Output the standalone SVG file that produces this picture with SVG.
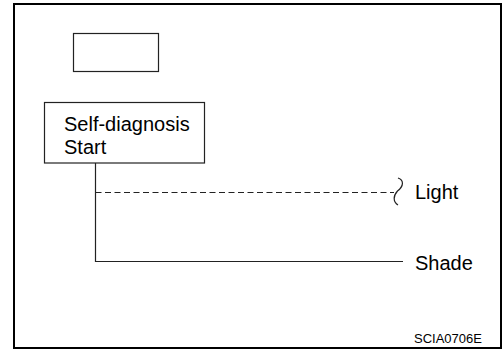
<svg xmlns="http://www.w3.org/2000/svg" width="503" height="350" viewBox="0 0 503 350">
<style>
.box{fill:#fff;stroke:#222;stroke-width:1.2}
.ln{fill:none;stroke:#222;stroke-width:1.2}
.t{font-family:"Liberation Sans",Arial,sans-serif;font-size:20px;fill:#000}
.code{font-family:"Liberation Sans",Arial,sans-serif;font-size:13px;fill:#000}
</style>
<rect x="0" y="0" width="503" height="350" fill="#fff"/>
<rect x="14" y="4" width="487" height="344" fill="none" stroke="#000" stroke-width="2"/>
<g id="blank-box">
<rect class="box" x="73.5" y="33.5" width="85" height="38"/>
</g>
<g id="self-diagnosis">
<rect class="box" x="44.5" y="102.5" width="160" height="60.5"/>
<text class="t" x="64" y="130.5">Self-diagnosis</text>
<text class="t" x="64" y="153.5">Start</text>
</g>
<g id="connectors">
<path class="ln" d="M95.5 163 V261.5 H403"/>
<path class="ln" d="M95.5 192.5 H394" stroke-dasharray="6 3.5"/>
<path class="ln" d="M398 178 C404 180,404 186,397.5 191 C393 196,393 202,398 205"/>
</g>
<g id="light">
<text class="t" x="415" y="199">Light</text>
</g>
<g id="shade">
<text class="t" x="415" y="270">Shade</text>
</g>
<text class="code" x="414" y="343">SCIA0706E</text>
</svg>
